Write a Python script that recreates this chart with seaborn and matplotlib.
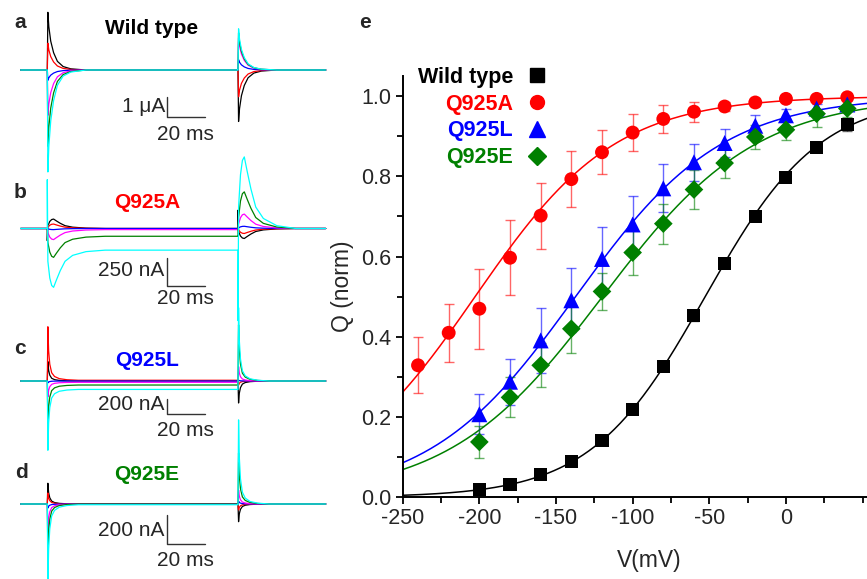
import matplotlib
matplotlib.use("Agg")
import matplotlib.pyplot as plt
from matplotlib.lines import Line2D
from matplotlib.ticker import MultipleLocator
import seaborn as sns
import numpy as np

sns.set_theme(style="ticks")
plt.rcParams["font.family"] = ["Liberation Sans", "DejaVu Sans"]
plt.rcParams["axes.unicode_minus"] = False

# ---------------- panel e data: Q-V ----------------
v_wt = [-200, -180, -160, -140, -120, -100, -80, -60, -40, -20, 0, 20, 40]
q_wt = [0.02, 0.033, 0.057, 0.09, 0.142, 0.219, 0.326, 0.452, 0.583, 0.70, 0.797, 0.871, 0.928]
e_wt = [0.005, 0.005, 0.006, 0.007, 0.008, 0.01, 0.01, 0.012, 0.012, 0.01, 0.01, 0.01, 0.015]

v_a = [-240, -220, -200, -180, -160, -140, -120, -100, -80, -60, -40, -20, 0, 20, 40]
q_a = [0.329, 0.41, 0.47, 0.597, 0.702, 0.793, 0.86, 0.909, 0.943, 0.961, 0.974, 0.984, 0.993, 0.993, 0.997]
e_a = [0.07, 0.073, 0.10, 0.094, 0.082, 0.07, 0.055, 0.047, 0.035, 0.025, 0.012, 0.01, 0.008, 0.008, 0.006]

v_l = [-200, -180, -160, -140, -120, -100, -80, -60, -40, -20, 0, 20, 40]
q_l = [0.207, 0.288, 0.391, 0.491, 0.594, 0.68, 0.77, 0.835, 0.883, 0.926, 0.952, 0.969, 0.979]
e_l = [0.05, 0.057, 0.08, 0.08, 0.08, 0.07, 0.06, 0.046, 0.036, 0.026, 0.015, 0.012, 0.01]

v_e = [-200, -180, -160, -140, -120, -100, -80, -60, -40, -20, 0, 20, 40]
q_e = [0.138, 0.249, 0.329, 0.42, 0.513, 0.61, 0.682, 0.767, 0.833, 0.898, 0.916, 0.956, 0.969]
e_e = [0.04, 0.05, 0.055, 0.06, 0.045, 0.055, 0.05, 0.048, 0.038, 0.03, 0.025, 0.033, 0.02]

# Boltzmann fit parameters (V1/2, slope)
fit_wt = (-52.7, 37.3)
fit_a = (-202.8, 45.6)
fit_l = (-137.3, 47.7)
fit_e = (-119.7, 50.1)

# ---------------- panels a-d: gating current traces ----------------
trace_colors = ["black", "red", "blue", "magenta", "#008000", "cyan"]

# a: Wild type (uA)
a_on = [2.8, 1.3, -0.5, -2.2, -3.7, -4.95]
a_plat = [0, 0, 0, 0, 0, 0]
a_off = [-2.5, -1.3, 0.5, 1.55, 1.8, 2.0]
a_art_on = [0, 0, 0, 0, 0, 0]
a_art_off = [0, 0, 0, 0, 0, 0]
a_shape_t = [0, 0.5, 1.5, 3, 5, 8, 12, 20]
a_shape = [1, 0.75, 0.5, 0.3, 0.15, 0.06, 0.02, 0]

# b: Q925A (nA)
b_on = [85, 40, -10, -100, -260, -530]
b_plat = [0, 0, 0, -10, -70, -195]
b_off = [-90, -45, 20, 130, 330, 645]
b_art_on = [-110, 0, 0, 0, 0, 440]
b_art_off = [165, 0, 0, 0, 0, -830]
b_shape_t = [0, 1, 2, 3, 4.5, 6.5, 9, 13, 20, 30]
b_shape = [0.3, 0.75, 0.95, 1.0, 0.8, 0.55, 0.3, 0.14, 0.04, 0]

# c: Q925L (nA)
c_on = [265, 740, -25, -215, -600, -945]
c_plat = [0, 10, 0, -18, -55, -115]
c_off = [-300, -55, 10, 195, 765, 1000]
c_art_on = [0, 0, 0, 0, 0, 0]
c_art_off = [0, 0, 0, 0, 0, 0]
c_shape_t = [0, 0.4, 1, 2, 3.5, 6, 10, 16]
c_shape = [1, 0.55, 0.3, 0.14, 0.07, 0.03, 0.01, 0]

# d: Q925E (nA)
d_on = [143, 76, -28, -180, -350, -560]
d_plat = [0, 0, 0, 0, 0, -5]
d_off = [-122, -41, 20, 97, 350, 580]
d_art_on = [0, 0, 0, 0, 0, 0]
d_art_off = [0, 0, 0, 0, 0, 0]
d_shape_t = [0, 0.4, 1, 2, 3.5, 6, 10, 16]
d_shape = [1, 0.55, 0.3, 0.14, 0.07, 0.03, 0.01, 0]

# ---------------- layout ----------------
W, H = 867, 579
fig = plt.figure(figsize=(W / 100, H / 100), dpi=100)


def fx(x):
    return x / W


def fy(y):
    return 1 - y / H


PX_PER_MS = 1.907
X0 = 47.3  # pixel of pulse onset
T_START, T_END = -14, 146


def build_trace(pk_on, plat, pk_off, art_on, art_off, sh_t, sh):
    t = [T_START, 0, 0]
    y = [0, 0, art_on]
    for s, f in zip(sh_t, sh):
        t.append(0.3 + s)
        y.append(plat + (pk_on - plat) * f)
    t += [99.7, 100, 100]
    y += [plat, plat, art_off]
    for s, f in zip(sh_t, sh):
        t.append(100.3 + s)
        y.append(pk_off * f)
    t.append(T_END)
    y.append(0)
    return np.array(t), np.array(y)


panels = [
    # data, baseline px, px per unit, scalebar amp, scalebar bottom px
    ((a_on, a_plat, a_off, a_art_on, a_art_off, a_shape_t, a_shape), 70, 20.6, 1, 117.3),
    ((b_on, b_plat, b_off, b_art_on, b_art_off, b_shape_t, b_shape), 228.5, 0.111, 250, 286),
    ((c_on, c_plat, c_off, c_art_on, c_art_off, c_shape_t, c_shape), 381, 0.0733, 200, 414),
    ((d_on, d_plat, d_off, d_art_on, d_art_off, d_shape_t, d_shape), 504, 0.145, 200, 544),
]

for (data, yb, s, sb_amp, sb_bot) in panels:
    ax = fig.add_axes([0, 0, fx(330), 1])
    ax.set_xlim((0 - X0) / PX_PER_MS, (330 - X0) / PX_PER_MS)
    ax.set_ylim((yb - H) / s, yb / s)
    ax.axis("off")
    pk_on, plat, pk_off, art_on, art_off, sh_t, sh = data
    for i, c in enumerate(trace_colors):
        t, y = build_trace(pk_on[i], plat[i], pk_off[i], art_on[i], art_off[i], sh_t, sh)
        sns.lineplot(x=t, y=y, color=c, lw=0.9, ax=ax, estimator=None, sort=False)
    # scale bar
    t_sb = (166.5 - X0) / PX_PER_MS
    y_sb = (yb - sb_bot) / s
    ax.plot([t_sb, t_sb, t_sb + 20], [y_sb + sb_amp, y_sb, y_sb], color="#333333", lw=1.0)

# panel letters
for lab, (x, y) in zip("abcde", [(20, 22), (20, 193), (20, 348), (21, 473), (365, 23)]):
    fig.text(fx(x), fy(y), lab, fontsize=15, fontweight="bold", ha="center", va="center")

# panel titles
for txt, col, (x, y) in zip(["Wild type", "Q925A", "Q925L", "Q925E"],
                            ["black", "red", "blue", "#008000"],
                            [(152, 28), (147, 202), (147, 360), (147, 475)]):
    fig.text(fx(x), fy(y), txt, color=col, fontsize=15, fontweight="bold", ha="center", va="center")

# scale bar labels
for txt, (x, y) in zip(["1 \u03bcA", "250 nA", "200 nA", "200 nA"],
                       [(165, 106), (164, 270), (164, 405), (164, 531)]):
    fig.text(fx(x), fy(y), txt, fontsize=15, ha="right", va="center")
for y in [134, 298, 430, 560]:
    fig.text(fx(185), fy(y), "20 ms", fontsize=15, ha="center", va="center")

# ---------------- panel e ----------------
ax = fig.add_axes([fx(402.7), fy(497.3), (W - 402.7) / W, (497.3 - 76) / H])
ax.set_facecolor("none")
xmax = -250 + (W - 402.7) / 1.533
ax.set_xlim(-250, xmax)
ax.set_ylim(0, 1.05)

v_fit = np.linspace(-250, xmax, 400)
series = [
    (v_wt, q_wt, e_wt, fit_wt, "black", "black", "s", 9.4, "Wild type"),
    (v_a, q_a, e_a, fit_a, "red", "red", "o", 10, "Q925A"),
    (v_l, q_l, e_l, fit_l, "blue", "blue", "^", 11.5, "Q925L"),
    (v_e, q_e, e_e, fit_e, "#008000", "#008000", "D", 9.5, "Q925E"),
]
handles = []
for v, q, e, (vh, k), col, ecol, mk, ms, name in series:
    qfit = 1 / (1 + np.exp((vh - v_fit) / k))
    sns.lineplot(x=v_fit, y=qfit, color=col, lw=1.1, ax=ax, zorder=2)
    ax.errorbar(v, q, yerr=e, fmt="none", ecolor=ecol, alpha=0.6, elinewidth=1.0,
                capsize=3.6, capthick=1.0, zorder=3, clip_on=False)
    sns.scatterplot(x=v, y=q, marker=mk, s=ms ** 2, color=col, edgecolor="none",
                    ax=ax, zorder=4, clip_on=False)
    handles.append(Line2D([], [], marker=mk, ls="none", color=col, ms=ms, label=name))

ax.legend(handles=handles, loc="upper right", bbox_to_anchor=(0.312, 1.022),
          frameon=False, markerfirst=False, handlelength=1.0, handletextpad=0.6,
          labelspacing=0.27, borderpad=0, borderaxespad=0, labelcolor="markerfacecolor",
          prop={"size": 15.5, "weight": "bold"})

sns.despine(ax=ax)
for sp in ["left", "bottom"]:
    ax.spines[sp].set_linewidth(1.4)
    ax.spines[sp].set_color("black")
ax.set_xticks([-250, -200, -150, -100, -50, 0])
ax.xaxis.set_minor_locator(MultipleLocator(25))
ax.yaxis.set_major_locator(MultipleLocator(0.2))
ax.yaxis.set_minor_locator(MultipleLocator(0.1))
ax.set_yticks([0, 0.2, 0.4, 0.6, 0.8, 1.0])
ax.set_yticklabels(["0.0", "0.2", "0.4", "0.6", "0.8", "1.0"])
ax.tick_params(which="both", direction="out", width=1.3, color="black", labelsize=15.5, pad=3)
ax.tick_params(which="major", length=5)
ax.tick_params(which="minor", length=4.5)
ax.set_xlabel("V(mV)", fontsize=16.5)
ax.set_ylabel("Q (norm)", fontsize=16.5)
ax.xaxis.set_label_coords(0.53, -0.122)
ax.yaxis.set_label_coords(-0.105, 0.5)

fig.savefig("out.png", dpi=100)
